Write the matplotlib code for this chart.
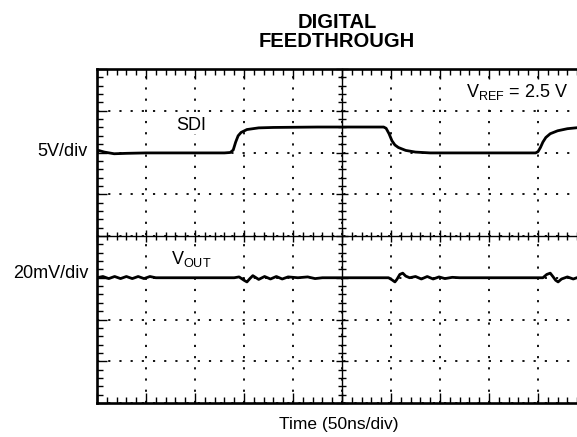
import matplotlib
matplotlib.use("Agg")
import matplotlib.pyplot as plt
from matplotlib.ticker import MultipleLocator

plt.rcParams["font.family"] = ["Liberation Sans", "DejaVu Sans"]
plt.rcParams["mathtext.fontset"] = "custom"
plt.rcParams["mathtext.rm"] = "Liberation Sans"

# SDI trace, in divisions (x: 0..10, y: -4..4)
sdi_t = [0.0, 0.15, 0.35, 0.6, 1.0, 2.0, 2.6, 2.72, 2.78, 2.83, 2.88, 2.94,
         3.06, 3.3, 3.6, 4.5, 5.5, 5.85, 5.9, 5.96, 6.02, 6.08, 6.15, 6.3,
         6.5, 6.8, 7.5, 8.5, 8.95, 9.0, 9.05, 9.1, 9.16, 9.25, 9.4, 9.6,
         9.85, 10.0]
sdi_v = [2.06, 2.01, 1.97, 1.98, 1.99, 1.99, 1.99, 2.0, 2.06, 2.25, 2.4, 2.48,
         2.55, 2.59, 2.6, 2.61, 2.61, 2.61, 2.58, 2.45, 2.28, 2.18, 2.12, 2.05,
         2.01, 1.99, 1.99, 1.99, 1.99, 2.02, 2.12, 2.25, 2.36, 2.45, 2.52, 2.57,
         2.6, 2.6]

# VOUT trace, in divisions
vout_t = [0.0, 0.12, 0.24, 0.36, 0.48, 0.6, 0.72, 0.84, 0.96, 1.08, 1.2, 2.0,
          2.8, 2.9, 3.0, 3.06, 3.12, 3.18, 3.3, 3.42, 3.54, 3.66, 3.78, 3.9,
          4.1, 4.3, 4.45, 4.6, 5.2, 5.95, 6.02, 6.08, 6.12, 6.18, 6.24, 6.3,
          6.38, 6.5, 6.62, 6.74, 6.86, 6.98, 7.1, 7.25, 7.4, 8.0, 9.1, 9.18,
          9.25, 9.31, 9.36, 9.41, 9.48, 9.6, 9.72, 9.84, 10.0]
vout_v = [-1.0, -0.97, -1.02, -0.97, -1.02, -0.97, -1.02, -0.97, -1.02, -0.97,
          -1.0, -1.0, -1.0, -0.98, -1.06, -1.1, -1.02, -0.95, -1.04, -0.97,
          -1.03, -0.97, -1.03, -0.98, -1.0, -0.98, -1.02, -1.0, -1.0, -1.0,
          -1.05, -1.1, -1.04, -0.92, -0.89, -0.96, -1.0, -0.97, -1.03, -0.97,
          -1.03, -0.98, -1.02, -0.99, -1.0, -1.0, -1.0, -0.92, -0.89, -0.98,
          -1.06, -1.1, -1.03, -0.98, -1.03, -0.98, -1.0]

fig = plt.figure(figsize=(5.77, 4.37), dpi=100)
pos = [97 / 577, 1 - 403 / 437, 490 / 577, 334 / 437]
ax = fig.add_axes(pos)
ax.set_xlim(0, 10)
ax.set_ylim(-4, 4)

ax.xaxis.set_major_locator(MultipleLocator(1))
ax.xaxis.set_minor_locator(MultipleLocator(0.2))
ax.yaxis.set_major_locator(MultipleLocator(1))
ax.yaxis.set_minor_locator(MultipleLocator(0.2))
ax.tick_params(which="both", direction="in", top=True, bottom=True,
               left=True, right=False, labelbottom=False, labelleft=False,
               color="black")
ax.tick_params(which="major", length=7, width=1.0)
ax.tick_params(which="minor", length=4, width=1.0)
ax.grid(which="major", color="black", linestyle=(0, (1.2, 5)), linewidth=1.3)
for s in ax.spines.values():
    s.set_linewidth(1.9)

# center crosshair with ticks on both sides
ax2 = fig.add_axes(pos, frameon=True)
ax2.patch.set_visible(False)
ax2.set_xlim(0, 10)
ax2.set_ylim(-4, 4)
ax2.spines["left"].set_position(("data", 5))
ax2.spines["bottom"].set_position(("data", 0))
ax2.spines["top"].set_visible(False)
ax2.spines["right"].set_visible(False)
for k in ("left", "bottom"):
    ax2.spines[k].set_linewidth(1.0)
ax2.xaxis.set_major_locator(MultipleLocator(1))
ax2.xaxis.set_minor_locator(MultipleLocator(0.2))
ax2.yaxis.set_major_locator(MultipleLocator(1))
ax2.yaxis.set_minor_locator(MultipleLocator(0.2))
ax2.tick_params(which="both", direction="inout", labelbottom=False,
                labelleft=False, color="black", width=1.0)
ax2.tick_params(which="major", length=8)
ax2.tick_params(which="minor", length=6)

ax2.plot(sdi_t, sdi_v, color="black", lw=2.0, solid_joinstyle="round")
ax2.plot(vout_t, vout_v, color="black", lw=2.0, solid_joinstyle="round")

fs = 13
box = dict(facecolor="white", edgecolor="none", pad=0.5)
ax2.text(1.62, 2.45, "SDI", fontsize=fs, ha="left", va="bottom", bbox=box)
ax2.text(1.52, -0.3, r"$\mathregular{V_{OUT}}$", fontsize=fs, ha="left",
         va="top", bbox=box)
ax2.text(9.62, 3.45, r"$\mathregular{V_{REF}}$ = 2.5 V", fontsize=fs,
         ha="right", va="center", bbox=box)

fig.text(88 / 577, 1 - 151 / 437, "5V/div", fontsize=fs, ha="right",
         va="center")
fig.text(88 / 577, 1 - 274 / 437, "20mV/div", fontsize=fs, ha="right",
         va="center")
fig.text(339 / 577, 1 - 425 / 437, "Time (50ns/div)", fontsize=12.5,
         ha="center", va="center")
fig.text(337 / 577, 1 - 32 / 437, "DIGITAL\nFEEDTHROUGH", fontsize=14.5,
         fontweight="bold", ha="center", va="center", linespacing=0.95)

fig.savefig("out.png", dpi=100)
